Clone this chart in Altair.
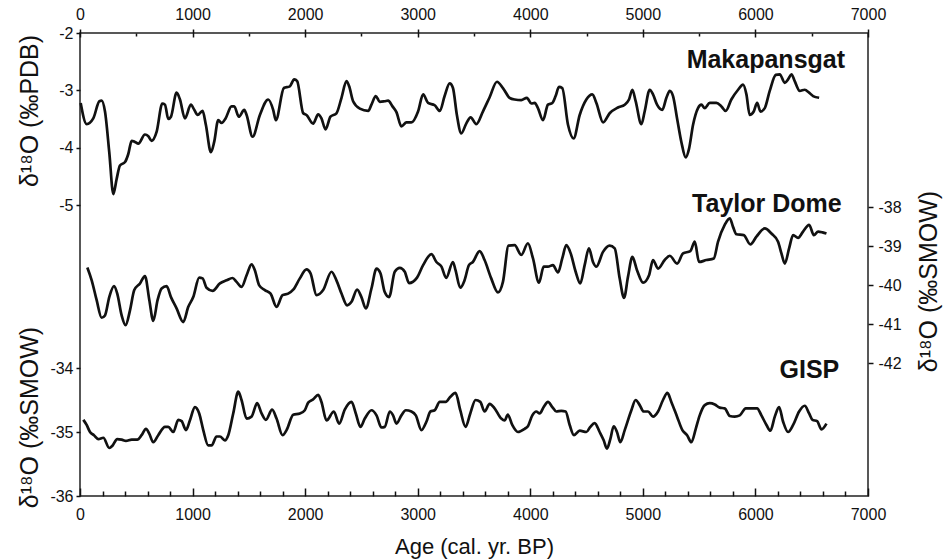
import altair as alt
import pandas as pd

# ---------------- data ----------------
mak_age = [6, 59, 118, 172, 192, 222, 260, 296, 325, 355,
           400, 429, 459, 488, 518, 577, 607, 636, 681, 731,
           755, 784, 808, 858, 888, 932, 985, 1015, 1045, 1089,
           1118, 1163, 1192, 1228, 1258, 1293, 1346, 1370, 1411, 1459,
           1480, 1533, 1598, 1672, 1716, 1740, 1811, 1864, 1903, 1929,
           1983, 2012, 2071, 2116, 2145, 2181, 2225, 2278, 2323, 2367,
           2391, 2426, 2486, 2560, 2589, 2628, 2663, 2707, 2737, 2776,
           2811, 2855, 2900, 2944, 3003, 3048, 3092, 3151, 3196, 3239,
           3284, 3313, 3348, 3387, 3431, 3470, 3520, 3579, 3639, 3704,
           3757, 3816, 3861, 3920, 3970, 4009, 4039, 4068, 4113, 4157,
           4196, 4225, 4255, 4284, 4335, 4385, 4439, 4498, 4551, 4587,
           4647, 4705, 4779, 4839, 4877, 4907, 4936, 4987, 5016, 5061,
           5090, 5126, 5173, 5209, 5239, 5268, 5304, 5342, 5381, 5410,
           5446, 5490, 5520, 5550, 5594, 5653, 5698, 5736, 5786, 5846,
           5890, 5920, 5949, 5985, 6015, 6045, 6083, 6127, 6181, 6216,
           6261, 6290, 6320, 6349, 6394, 6438, 6477, 6512, 6566]
mak_val = [-3.22, -3.59, -3.49, -3.19, -3.18, -3.37, -4.08, -4.81, -4.55, -4.31,
           -4.25, -4.11, -3.88, -3.90, -3.93, -3.77, -3.80, -3.88, -3.72, -3.23,
           -3.25, -3.50, -3.46, -3.04, -3.16, -3.49, -3.25, -3.34, -3.43, -3.36,
           -3.60, -4.08, -3.90, -3.52, -3.57, -3.49, -3.28, -3.28, -3.46, -3.34,
           -3.43, -3.81, -3.43, -3.16, -3.34, -3.52, -2.96, -2.93, -2.81, -2.84,
           -3.40, -3.43, -3.58, -3.42, -3.49, -3.68, -3.46, -3.40, -3.13, -2.84,
           -2.93, -3.19, -3.32, -3.36, -3.25, -3.10, -3.20, -3.19, -3.18, -3.28,
           -3.38, -3.63, -3.56, -3.56, -3.37, -3.07, -3.22, -3.26, -3.36, -3.10,
           -2.88, -2.96, -3.43, -3.75, -3.58, -3.47, -3.59, -3.37, -3.12, -2.85,
           -2.96, -3.13, -3.16, -3.17, -3.13, -3.23, -3.22, -3.31, -3.52, -3.25,
           -3.22, -3.10, -2.94, -2.96, -3.60, -3.84, -3.43, -3.16, -3.07, -3.22,
           -3.56, -3.40, -3.30, -3.25, -3.16, -2.99, -3.19, -3.59, -3.37, -2.99,
           -3.07, -3.25, -3.34, -3.13, -3.01, -3.10, -3.49, -3.90, -4.17, -4.02,
           -3.60, -3.31, -3.25, -3.31, -3.22, -3.22, -3.28, -3.36, -3.16, -2.99,
           -2.90, -3.07, -3.43, -3.37, -3.22, -3.37, -3.31, -3.01, -2.73, -2.72,
           -2.87, -2.81, -2.72, -2.84, -3.01, -2.99, -3.04, -3.10, -3.13]

td_age = [65, 104, 148, 192, 222, 260, 302, 331, 370, 405,
          444, 482, 533, 577, 616, 651, 689, 725, 769, 808,
          858, 917, 962, 1006, 1059, 1089, 1124, 1178, 1243, 1302,
          1355, 1391, 1435, 1480, 1524, 1553, 1592, 1642, 1693, 1746,
          1799, 1849, 1894, 1953, 2012, 2048, 2101, 2160, 2234, 2278,
          2323, 2373, 2412, 2462, 2500, 2539, 2589, 2634, 2669, 2707,
          2746, 2796, 2841, 2885, 2923, 2994, 3048, 3122, 3166, 3211,
          3253, 3313, 3336, 3378, 3416, 3455, 3490, 3550, 3594, 3653,
          3713, 3757, 3807, 3861, 3920, 3979, 4024, 4077, 4119, 4157,
          4201, 4246, 4284, 4320, 4359, 4403, 4444, 4483, 4521, 4557,
          4587, 4646, 4705, 4750, 4794, 4833, 4868, 4907, 4948, 5002,
          5055, 5090, 5135, 5194, 5239, 5304, 5357, 5422, 5461, 5499,
          5564, 5630, 5668, 5727, 5772, 5801, 5831, 5896, 5955, 6009,
          6083, 6142, 6201, 6231, 6261, 6299, 6335, 6379, 6423, 6477,
          6519, 6557, 6596, 6631]
td_val = [-39.55, -39.88, -40.39, -40.84, -40.78, -40.31, -40.03, -40.22, -40.78, -41.03,
          -40.65, -40.13, -39.96, -39.77, -40.39, -40.92, -40.39, -40.09, -40.03, -40.31,
          -40.60, -40.95, -40.56, -40.31, -39.81, -39.83, -40.07, -40.15, -39.96, -39.88,
          -39.82, -39.92, -40.05, -39.75, -39.47, -39.62, -40.01, -40.13, -40.22, -40.56,
          -40.26, -40.22, -40.12, -39.83, -39.60, -39.70, -40.26, -40.13, -39.66, -39.88,
          -40.22, -40.52, -40.43, -40.12, -40.31, -40.60, -40.09, -39.58, -39.70, -40.18,
          -40.31, -39.66, -39.56, -39.66, -39.95, -39.81, -39.49, -39.21, -39.41, -39.53,
          -39.82, -39.41, -39.62, -40.07, -39.88, -39.49, -39.41, -39.13, -39.36, -39.83,
          -40.19, -39.92, -38.99, -38.98, -39.23, -38.93, -39.32, -39.94, -39.53, -39.53,
          -39.49, -39.68, -39.32, -38.98, -39.19, -39.66, -39.96, -39.49, -39.06, -39.41,
          -39.53, -39.15, -38.99, -39.06, -39.83, -40.33, -39.79, -39.28, -39.62, -39.94,
          -39.75, -39.36, -39.58, -39.36, -39.25, -39.45, -39.19, -39.13, -38.89, -39.41,
          -39.36, -39.32, -38.89, -38.46, -38.29, -38.51, -38.70, -38.72, -38.96, -38.76,
          -38.55, -38.68, -38.89, -39.19, -39.45, -39.06, -38.72, -38.79, -38.63, -38.46,
          -38.72, -38.63, -38.65, -38.68]

gi_age = [30, 59, 89, 124, 163, 207, 260, 290, 331, 370,
          408, 459, 509, 547, 586, 616, 651, 695, 755, 784,
          829, 873, 903, 941, 976, 1021, 1059, 1095, 1139, 1169,
          1213, 1243, 1287, 1317, 1361, 1406, 1435, 1480, 1524, 1574,
          1613, 1651, 1707, 1746, 1799, 1835, 1894, 1953, 1997, 2027,
          2071, 2116, 2145, 2190, 2255, 2302, 2352, 2412, 2450, 2491,
          2530, 2589, 2634, 2678, 2707, 2752, 2781, 2811, 2855, 2894,
          2944, 2983, 3033, 3077, 3113, 3151, 3196, 3249, 3290, 3336,
          3378, 3425, 3467, 3514, 3556, 3594, 3639, 3683, 3742, 3772,
          3801, 3840, 3890, 3950, 3979, 4018, 4053, 4083, 4119, 4157,
          4196, 4231, 4276, 4314, 4350, 4388, 4439, 4498, 4533, 4572,
          4616, 4652, 4681, 4711, 4741, 4770, 4800, 4839, 4898, 4936,
          4972, 5007, 5046, 5090, 5135, 5179, 5218, 5253, 5304, 5351,
          5393, 5431, 5470, 5505, 5550, 5594, 5639, 5683, 5727, 5772,
          5816, 5861, 5914, 5964, 6015, 6053, 6098, 6133, 6172, 6210,
          6246, 6290, 6335, 6388, 6438, 6477, 6507, 6548, 6587, 6631]
gi_val = [-34.81, -34.89, -35.00, -35.05, -35.11, -35.09, -35.25, -35.21, -35.11, -35.12,
          -35.14, -35.12, -35.12, -35.05, -34.95, -35.03, -35.16, -35.05, -34.92, -34.92,
          -35.00, -34.81, -34.83, -34.97, -34.82, -34.61, -34.71, -34.97, -35.21, -35.21,
          -35.07, -35.07, -35.13, -35.05, -34.71, -34.37, -34.50, -34.79, -34.76, -34.55,
          -34.71, -34.81, -34.65, -34.79, -35.05, -34.97, -34.73, -34.71, -34.66, -34.54,
          -34.49, -34.42, -34.53, -34.82, -34.68, -34.87, -34.65, -34.53, -34.71, -34.92,
          -34.79, -34.66, -34.74, -34.93, -34.92, -34.68, -34.74, -34.87, -34.74, -34.66,
          -34.68, -34.74, -34.97, -34.84, -34.68, -34.66, -34.53, -34.53, -34.45, -34.39,
          -34.66, -34.92, -34.71, -34.50, -34.53, -34.68, -34.56, -34.63, -34.79, -34.82,
          -34.73, -34.89, -35.00, -34.95, -34.91, -34.74, -34.68, -34.71, -34.61, -34.53,
          -34.61, -34.68, -34.67, -34.68, -34.89, -35.05, -34.98, -35.00, -34.92, -34.86,
          -35.00, -35.13, -35.26, -35.11, -34.91, -35.00, -35.16, -34.97, -34.66, -34.50,
          -34.58, -34.68, -34.68, -34.76, -34.68, -34.50, -34.39, -34.53, -34.76, -34.97,
          -35.05, -35.16, -34.95, -34.74, -34.58, -34.55, -34.57, -34.62, -34.63, -34.75,
          -34.76, -34.74, -34.63, -34.63, -34.63, -34.74, -34.89, -34.98, -34.76, -34.61,
          -34.84, -35.00, -34.89, -34.68, -34.59, -34.71, -34.81, -34.83, -34.96, -34.87]

# series labels (text, age of right edge, value at baseline)
label_text = ["Makapansgat", "Taylor Dome", "GISP"]
label_age = [6796, 6766, 6745]
label_val = [-2.61, -38.12, -34.16]

x_major = [0, 1000, 2000, 3000, 4000, 5000, 6000, 7000]
x_minor_top = [500, 1500, 2500, 3500, 4500, 5500, 6500]
x_minor_bottom = [v for v in range(200, 7000, 200) if v % 1000 != 0]
mak_ticks = [-2, -3, -4, -5]
td_ticks = [-38, -39, -40, -41, -42]
gi_ticks = [-34, -35, -36]

# ---------------- layout ----------------
FONT = "Liberation Sans"
W, H = 788, 463
INK = "#111111"

xscale = alt.Scale(domain=[0, 7000], nice=False, zero=False)

mak_scale = alt.Scale(domain=[-5, -2], range=[172, 0], nice=False, zero=False)
td_scale = alt.Scale(domain=[-42, -38], range=[330, 174], nice=False, zero=False)
gi_scale = alt.Scale(domain=[-36, -34], range=[463, 335], nice=False, zero=False)

ax_top_major = alt.Axis(orient="top", values=x_major, format="d", tickSize=8, offset=-4,
                        labelPadding=7, title=None)
ax_top_minor = alt.Axis(orient="top", values=x_minor_top, tickSize=3, offset=-3,
                        labels=False, title=None)
ax_bot_major = alt.Axis(orient="bottom", values=x_major, format="d", tickSize=8, offset=-8,
                        labelPadding=10, title="Age (cal. yr. BP)", titleFontSize=22,
                        titleFontWeight="normal", titleBaseline="alphabetic", titleY=65)
ax_bot_minor = alt.Axis(orient="bottom", values=x_minor_bottom, tickSize=5, offset=-5,
                        labels=False, title=None)

lbl = "'' + datum.value"
ax_mak = alt.Axis(orient="left", values=mak_ticks, tickSize=4, labelPadding=3, labelExpr=lbl,
                  title="δ¹⁸O (‰PDB)", titleFontSize=25, titleFontWeight="normal",
                  titleAngle=270, titleX=-51, titleY=77.5, titleBaseline="middle",
                  titleAlign="center")
ax_td = alt.Axis(orient="right", values=td_ticks, tickSize=5, labelPadding=5, labelExpr=lbl,
                 title="δ¹⁸O (‰SMOW)", titleFontSize=25, titleFontWeight="normal",
                 titleAngle=270, titleX=60, titleY=248, titleBaseline="middle",
                 titleAlign="center")
ax_gi = alt.Axis(orient="left", values=gi_ticks, tickSize=4, labelPadding=3, labelExpr=lbl,
                 title="δ¹⁸O (‰SMOW)", titleFontSize=25, titleFontWeight="normal",
                 titleAngle=270, titleX=-51, titleY=384, titleBaseline="middle",
                 titleAlign="center")

mak_df = pd.DataFrame({"age": mak_age, "val": mak_val})
td_df = pd.DataFrame({"age": td_age, "val": td_val})
gi_df = pd.DataFrame({"age": gi_age, "val": gi_val})
lab_df = pd.DataFrame({"label": label_text, "age": label_age, "val": label_val})

line_kw = dict(color=INK, strokeWidth=2.7, interpolate="monotone")


def line(df, xaxis, yscale, yaxis):
    return alt.Chart(df).mark_line(**line_kw).encode(
        x=alt.X("age:Q", scale=xscale, axis=xaxis),
        y=alt.Y("val:Q", scale=yscale, axis=yaxis),
    )


def label(i, yscale, xaxis):
    return alt.Chart(lab_df.iloc[[i]]).mark_text(
        align="right", baseline="alphabetic", font=FONT, fontSize=25,
        fontWeight="bold", color=INK,
    ).encode(
        x=alt.X("age:Q", scale=xscale, axis=xaxis),
        y=alt.Y("val:Q", scale=yscale, axis=None),
        text="label:N",
    )


chart = alt.layer(
    line(mak_df, ax_top_major, mak_scale, ax_mak),
    line(td_df, ax_bot_major, td_scale, ax_td),
    line(gi_df, ax_bot_minor, gi_scale, ax_gi),
    label(0, mak_scale, ax_top_minor),
    label(1, td_scale, None),
    label(2, gi_scale, None),
).resolve_scale(
    y="independent"
).resolve_axis(
    x="independent", y="independent"
).properties(
    width=W, height=H,
    autosize=alt.AutoSizeParams(type="none"),
    padding={"left": 80, "top": 33, "right": 75, "bottom": 64},
    background="white",
).configure_view(
    stroke="#222222", strokeWidth=1.5
).configure_axis(
    labelFont=FONT, titleFont=FONT, labelFontSize=16, labelColor=INK,
    titleColor=INK, tickColor="#111111", tickWidth=1.5, labelFlush=False,
    domain=False, grid=False, labelOverlap=False,
)

chart.save("out.html", embed_options={"renderer": "svg", "actions": False})
